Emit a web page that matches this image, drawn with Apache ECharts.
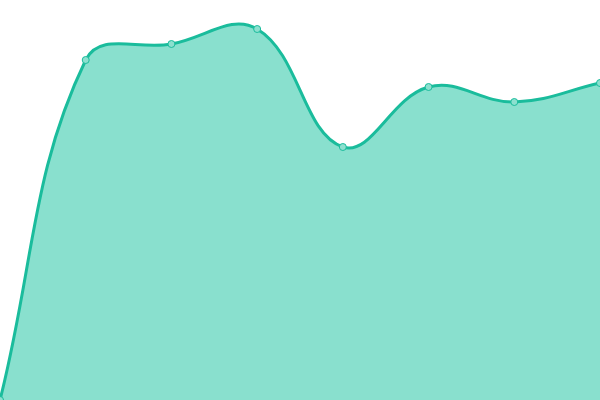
<!DOCTYPE html>
<html>
<head>
<meta charset="UTF-8" />
<title>Area</title>
<style>
  html, body { margin: 0; padding: 0; background: #fff; }
  #chart { width: 600px; height: 400px; }
</style>
</head>
<body>
<div id="chart"></div>
<script src="https://cdn.jsdelivr.net/npm/echarts@6/dist/echarts.min.js"></script>
<script>
  // data
  const categories = ['1', '2', '3', '4', '5', '6', '7', '8'];
  const values = [0, 340, 356, 371, 253, 313, 298, 317];

  const tension = 0.4;
  const lineColor = '#1abc9c';
  const fillColor = '#89e0ce';

  // cardinal-style curve through the points (control points from neighbours)
  function curvePath(pts) {
    const cps = pts.map((p, i) => {
      const prev = pts[i - 1] || p;
      const next = pts[i + 1] || p;
      const d01 = Math.hypot(p[0] - prev[0], p[1] - prev[1]);
      const d12 = Math.hypot(next[0] - p[0], next[1] - p[1]);
      const sum = d01 + d12 || 1;
      const fa = tension * d01 / sum;
      const fb = tension * d12 / sum;
      const dx = next[0] - prev[0], dy = next[1] - prev[1];
      return {
        before: [p[0] - fa * dx, p[1] - fa * dy],
        after: [p[0] + fb * dx, p[1] + fb * dy]
      };
    });
    let d = 'M' + pts[0][0] + ' ' + pts[0][1];
    for (let i = 1; i < pts.length; i++) {
      const a = cps[i - 1].after, b = cps[i].before, p = pts[i];
      d += ' C' + a[0] + ' ' + a[1] + ' ' + b[0] + ' ' + b[1] + ' ' + p[0] + ' ' + p[1];
    }
    return d;
  }

  const chart = echarts.init(document.getElementById('chart'));
  chart.setOption({
    animation: false,
    grid: { left: 0, right: 0, top: 0, bottom: 0 },
    xAxis: {
      type: 'category',
      data: categories,
      boundaryGap: false,
      show: false
    },
    yAxis: {
      type: 'value',
      min: 0,
      max: 400,
      show: false
    },
    series: [{
      type: 'custom',
      data: values.map((v, i) => [i, v]),
      encode: { x: 0, y: 1 },
      clip: false,
      renderItem: function (params, api) {
        if (params.dataIndex !== 0) return null;
        const pts = values.map((v, i) => api.coord([i, v]));
        const base = api.coord([0, 0])[1];
        const line = curvePath(pts);
        const last = pts[pts.length - 1];
        const area = line + ' L' + last[0] + ' ' + base + ' L' + pts[0][0] + ' ' + base + ' Z';
        return {
          type: 'group',
          children: [
            { type: 'path', shape: { pathData: area }, style: { fill: fillColor, stroke: null } },
            { type: 'path', shape: { pathData: line }, style: { fill: null, stroke: lineColor, lineWidth: 3 } }
          ]
        };
      }
    }, {
      type: 'scatter',
      data: values.map((v, i) => [i, v]),
      symbol: 'circle',
      symbolSize: 7,
      itemStyle: { color: '#8ce0cf', borderColor: lineColor, borderWidth: 1, opacity: 1 }
    }]
  });
</script>
</body>
</html>
